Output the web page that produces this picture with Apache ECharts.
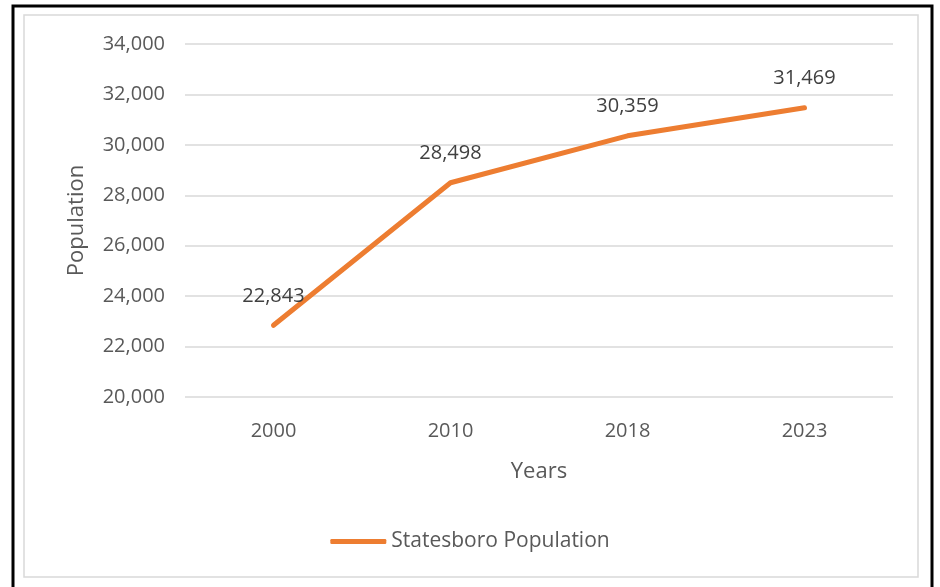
<!DOCTYPE html>
<html>
<head>
<meta charset="utf-8">
<script src="https://cdn.jsdelivr.net/npm/echarts@6/dist/echarts.min.js"></script>
<style>
html,body{margin:0;padding:0;background:#fff;}
#c{width:940px;height:587px;}
</style>
</head>
<body>
<div id="c"></div>
<script>
var years = ['2000', '2010', '2018', '2023'];
var population = [22843, 28498, 30359, 31469];
var seriesName = 'Statesboro Population';
var yMin = 20000, yMax = 34000, yStep = 2000;

var chart = echarts.init(document.getElementById('c'));
var font = '"Open Sans", "Noto Sans", sans-serif';
chart.setOption({
  animation: false,
  backgroundColor: '#fff',
  graphic: [
    { type: 'rect', shape: { x: 24, y: 15, width: 894, height: 562 }, style: { fill: 'none', stroke: '#d9d9d9', lineWidth: 1.5 } },
    { type: 'polyline', shape: { points: [[13, 600], [13, 6], [932, 6], [932, 600]] }, style: { fill: 'none', stroke: '#000', lineWidth: 3 } }
  ],
  grid: { left: 185, right: 47, top: 44, bottom: 190 },
  legend: {
    bottom: 30, left: 'center',
    itemWidth: 56, itemHeight: 5, itemGap: 6,
    icon: 'roundRect',
    textStyle: { fontFamily: font, fontSize: 21, color: '#595959' },
    data: [seriesName]
  },
  xAxis: {
    type: 'category',
    data: years,
    boundaryGap: true,
    name: 'Years', nameLocation: 'middle', nameGap: 64,
    nameTextStyle: { fontFamily: font, fontSize: 22, color: '#595959' },
    axisLine: { show: false }, axisTick: { show: false },
    axisLabel: { fontFamily: font, fontSize: 20, color: '#595959', margin: 24 }
  },
  yAxis: {
    type: 'value', min: yMin, max: yMax, interval: yStep,
    name: 'Population', nameLocation: 'middle', nameGap: 97,
    nameTextStyle: { fontFamily: font, fontSize: 22, color: '#595959' },
    axisLine: { show: false }, axisTick: { show: false },
    splitLine: { lineStyle: { color: '#d9d9d9', width: 1.5 } },
    axisLabel: {
      fontFamily: font, fontSize: 20, color: '#595959', margin: 20,
      formatter: function (v) { return v.toLocaleString('en-US'); }
    }
  },
  series: [{
    name: seriesName,
    type: 'line',
    data: population,
    showSymbol: true,
    symbol: 'circle',
    symbolSize: 1,
    lineStyle: { color: '#ED7D31', width: 5, cap: 'round' },
    itemStyle: { color: '#ED7D31' },
    label: {
      show: true, position: 'top', distance: 19,
      fontFamily: font, fontSize: 20, color: '#404040',
      formatter: function (p) { return p.value.toLocaleString('en-US'); }
    }
  }]
});
</script>
</body>
</html>
